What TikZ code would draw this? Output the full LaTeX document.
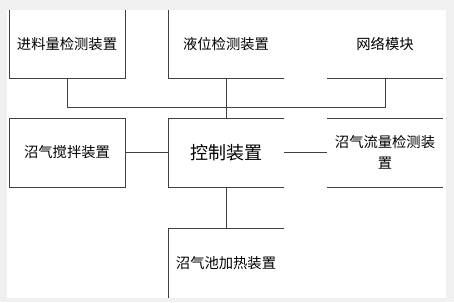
\documentclass[tikz,border=0pt]{standalone}
\usepackage{fontspec}
\newfontfamily\cjk{Noto Sans CJK SC}
\usepackage{tikz}
\usetikzlibrary{positioning}

\tikzset{
  unit/.style={inner sep=0pt, outer sep=0pt, minimum width=116pt, font=\cjk\fontsize{14.3}{21}\selectfont, align=center},
  edge/.style={draw=black!75, line width=0.8pt},
}

\begin{document}
\begin{tikzpicture}[x=1pt, y=-1pt]
		        \useasboundingbox (0,0) rectangle (454,302);
		        \fill[black!6] (0,0) rectangle (454,302);
		        \fill[white] (7,10) rectangle (446,298);
		        % top row
		        \node[unit, minimum height=68pt] (feed) at (67,44) {进料量检测装置};
		        \node[unit, minimum height=68pt] (level) at (226,44) {液位检测装置};
		        \node[unit, minimum height=68pt] (net) at (385,44) {网络模块};
		        % middle row
		        \node[unit, minimum height=69pt] (stir) at (67,152.5) {沼气搅拌装置};
		        \node[unit, minimum height=69pt, font=\cjk\fontsize{18}{22}\selectfont] (ctrl) at (226,152.5) {控制装置};
		        \node[unit, minimum height=69pt] (flow) at (385,152.5) {沼气流量检测装\\置};
		        % bottom
		        \node[unit, minimum height=70pt] (heat) at (226,263) {沼气池加热装置};
		        % box outlines
		        \draw[edge] (feed.north west) -- (feed.south west) -- (feed.south east) -- (feed.north east);
		        \draw[edge] (level.north west) |- (level.south east);
		        \draw[edge] (net.south west) -- (net.south east);
		        \draw[edge] (stir.north west) rectangle (stir.south east);
		        \draw[edge] (ctrl.north east) -- (ctrl.north west) -- (ctrl.south west) -- (ctrl.south east);
		        \draw[edge] (flow.north west) -- (flow.north east);
		        \draw[edge] (flow.south west) -- (flow.south east);
		        \draw[edge] (heat.south west) |- (heat.north east);
		        % connectors
		        \draw[edge] (feed.south) -- ++(0,29) -| (net.south);
		        \draw[edge] (level.south) -- (ctrl.north);
		        \draw[edge] (stir) -- (ctrl);
		        \draw[edge] (ctrl) -- (flow);
		        \draw[edge] (ctrl) -- (heat);
		    \end{tikzpicture}
\end{document}
